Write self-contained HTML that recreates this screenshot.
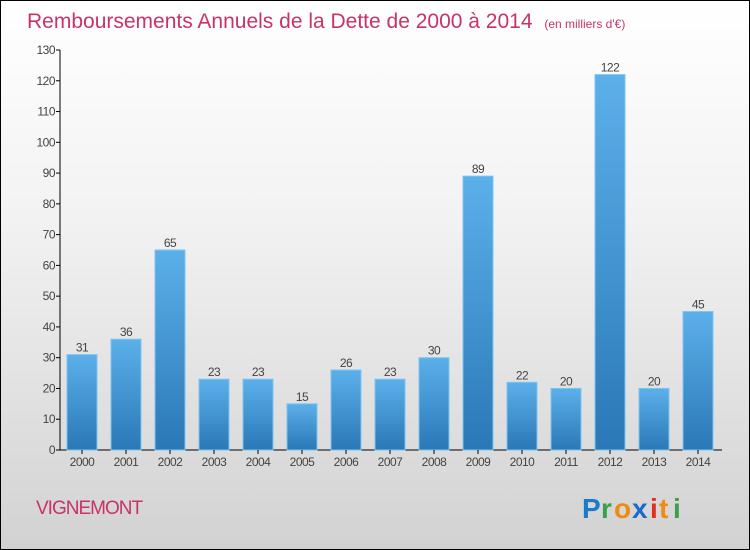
<!DOCTYPE html>
<html><head><meta charset="utf-8"><style>
body{margin:0}
#c{width:750px;height:550px;position:relative;box-sizing:border-box;border:1px solid #000;background:linear-gradient(#ffffff,#f2f2f2 40%,#d2d2d2);font-family:"Liberation Sans",sans-serif;overflow:hidden}
</style></head><body>
<div id="c">
<svg width="750" height="550" style="position:absolute;left:-1px;top:-1px">
<defs>
<linearGradient id="bg" x1="0" y1="0" x2="0" y2="1"><stop offset="0" stop-color="#5cb0ea"/><stop offset="1" stop-color="#2a78b6"/></linearGradient>
</defs>
<text x="27" y="28" font-size="21" fill="#c8336a">Remboursements Annuels de la Dette de 2000 à 2014 <tspan font-size="12" dx="6">(en milliers d'€)</tspan></text>
<g id="plot"></g>
<text x="36" y="514" font-size="19" fill="#c8336a" letter-spacing="-1">VIGNEMONT</text>
<g font-size="28" font-weight="bold" font-family="'Liberation Sans',sans-serif">
<text x="582" y="518" fill="#1a7acc">P</text><text x="601" y="518" fill="#3aa04a">r</text><text x="614" y="518" fill="#f08a10">o</text><text x="632" y="518" fill="#1a6acc">x</text><text x="650" y="518" fill="#e03020">i</text><text x="659" y="518" fill="#f08a10">t</text><text x="673" y="518" fill="#3aa04a">i</text>
</g>
</svg>
<script>
const years=["2000","2001","2002","2003","2004","2005","2006","2007","2008","2009","2010","2011","2012","2013","2014"];
const values=[31,36,65,23,23,15,26,23,30,89,22,20,122,20,45];
const ticks=[0,10,20,30,40,50,60,70,80,90,100,110,120,130];
const NS="http://www.w3.org/2000/svg";
const g=document.getElementById('plot');
const y=v=>450-v*400/130, x=i=>82+i*44;
function mk(t,a,txt){const e=document.createElementNS(NS,t);for(const k in a)e.setAttribute(k,a[k]);if(txt!=null)e.textContent=txt;g.appendChild(e);return e;}
const ax=mk('line',{x1:60,y1:50,x2:60,y2:450,stroke:'#000'});


const bx=mk('line',{x1:60,y1:450,x2:722,y2:450,stroke:'#000'});


ticks.forEach(t=>{
 mk('line',{x1:56,y1:y(t),x2:60,y2:y(t),stroke:'#000'});
 const l=mk('text',{x:55,y:y(t)+4,'font-size':12,fill:'#444','text-anchor':'end','letter-spacing':'-0.5'},t);
 
 
});
years.forEach((yr,i)=>{
 const v=values[i];
 const r=mk('rect',{x:x(i)-15,y:y(v),width:30,height:450-y(v),fill:'url(#bg)',stroke:'#7cc4f2','stroke-width':1});
 
 
 const vl=mk('text',{x:x(i),y:y(v)-3,'font-size':12,fill:'#444','text-anchor':'middle','letter-spacing':'-0.5'},v);
 
 
 mk('line',{x1:x(i),y1:450,x2:x(i),y2:454,stroke:'#000'});
 const xl=mk('text',{x:x(i),y:466,'font-size':12,fill:'#444','text-anchor':'middle','letter-spacing':'-0.5'},yr);
 
 
});
</script>
</div>
</body></html>
